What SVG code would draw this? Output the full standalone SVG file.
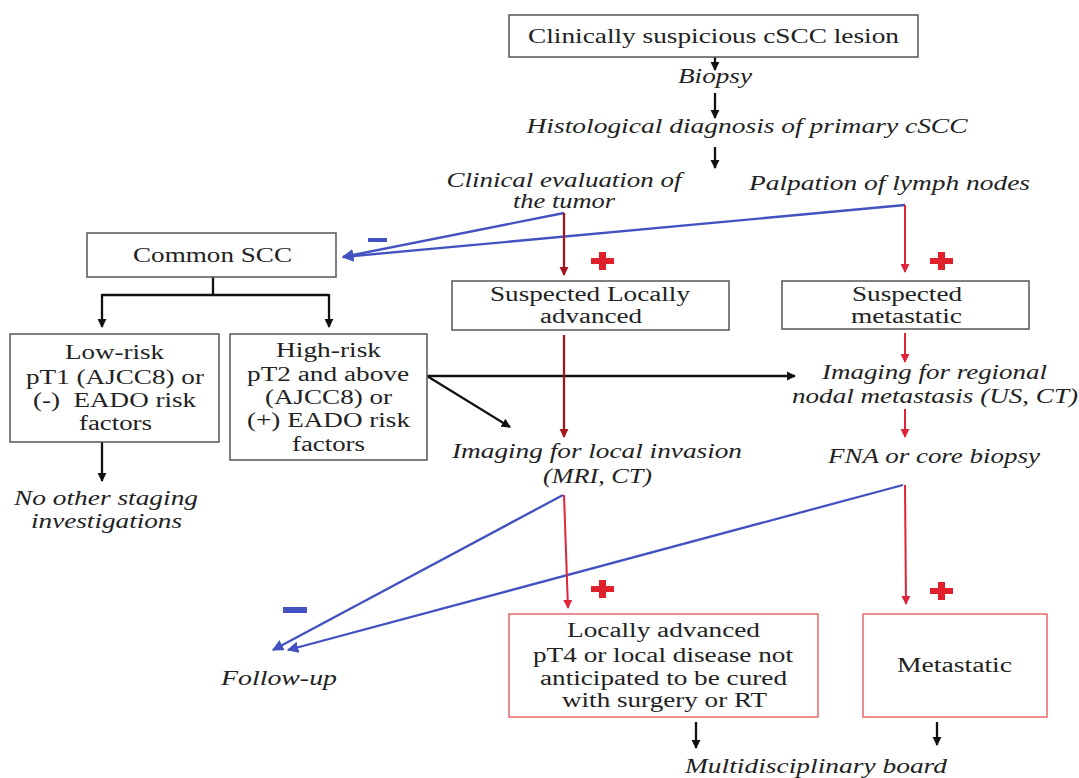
<svg xmlns="http://www.w3.org/2000/svg" width="1079" height="778" viewBox="0 0 1079 778">
<defs>
<marker id="ak" viewBox="0 0 10 10" refX="9" refY="5" markerWidth="4" markerHeight="4" orient="auto"><path d="M0,0L10,5L0,10z" fill="#111"/></marker>
<marker id="ab" viewBox="0 0 10 10" refX="9" refY="5" markerWidth="5" markerHeight="5" orient="auto"><path d="M0,0L10,5L0,10z" fill="#4352c0"/></marker>
<marker id="ar" viewBox="0 0 10 10" refX="9" refY="5" markerWidth="4.5" markerHeight="4.5" orient="auto"><path d="M0,0L10,5L0,10z" fill="#e0253a"/></marker>
<marker id="adr" viewBox="0 0 10 10" refX="9" refY="5" markerWidth="4" markerHeight="4" orient="auto"><path d="M0,0L10,5L0,10z" fill="#a3151e"/></marker>
</defs>
<rect width="1079" height="778" fill="#fff"/>

<g id="connectors" fill="none">
<g stroke="#111" stroke-width="2.3">
<line x1="715" y1="57" x2="715" y2="70" marker-end="url(#ak)"/>
<line x1="715" y1="93" x2="715" y2="118" marker-end="url(#ak)"/>
<line x1="715" y1="147" x2="715" y2="168" marker-end="url(#ak)"/>
<polyline points="213,277 213,295"/>
<polyline points="102,295 329,295"/>
<line x1="102" y1="294" x2="102" y2="327" marker-end="url(#ak)"/>
<line x1="329" y1="294" x2="329" y2="327" marker-end="url(#ak)"/>
<line x1="102" y1="442" x2="102" y2="481" marker-end="url(#ak)"/>
<line x1="427" y1="376" x2="795" y2="376" marker-end="url(#ak)"/>
<line x1="427" y1="376" x2="510" y2="427" marker-end="url(#ak)"/>
<line x1="696" y1="722" x2="696" y2="748" marker-end="url(#ak)"/>
<line x1="937" y1="722" x2="937" y2="745" marker-end="url(#ak)"/>
</g>
<g stroke="#4352c0" stroke-width="2.3">
<line x1="564" y1="213" x2="343" y2="257" marker-end="url(#ab)"/>
<line x1="905" y1="205" x2="343" y2="257" marker-end="url(#ab)"/>
<line x1="563" y1="495" x2="273" y2="650" marker-end="url(#ab)"/>
<line x1="903" y1="485" x2="288" y2="650" marker-end="url(#ab)"/>
</g>
<g stroke="#a3151e" stroke-width="2.3">
<line x1="564" y1="213" x2="564" y2="275" marker-end="url(#adr)"/>
<line x1="564" y1="335" x2="564" y2="437" marker-end="url(#adr)"/>
</g>
<g stroke="#e0253a" stroke-width="2">
<line x1="905" y1="205" x2="905" y2="272" marker-end="url(#ar)"/>
<line x1="905" y1="333" x2="905" y2="362" marker-end="url(#ar)"/>
<line x1="905" y1="409" x2="905" y2="437" marker-end="url(#ar)"/>
<line x1="564" y1="495" x2="568" y2="608" marker-end="url(#ar)"/>
<line x1="905" y1="485" x2="906" y2="604" marker-end="url(#ar)"/>
</g>
</g>

<g id="signs">
<g fill="#4352c0">
<rect x="368" y="238" width="19" height="4"/>
<rect x="283" y="607" width="24" height="6"/>
</g>
<g fill="#e0202a">
<path d="M599,252h7v6h8v6h-8v6h-7v-6h-8v-6h8z"/>
<path d="M938,252h7v6h8v6h-8v6h-7v-6h-8v-6h8z"/>
<path d="M599,580h7v6h8v6h-8v6h-7v-6h-8v-6h8z"/>
<path d="M938,582h7v6h8v6h-8v6h-7v-6h-8v-6h8z"/>
</g>
</g>

<g id="n-lesion">
<rect x="509" y="15" width="409" height="42" fill="#fff" stroke="#555" stroke-width="1.5"/>
<text font-family="Liberation Serif" font-size="21" fill="#222" text-anchor="middle" x="713.5" y="43" textLength="371" lengthAdjust="spacingAndGlyphs">Clinically suspicious cSCC lesion</text>
</g>
<g id="n-biopsy"><text font-family="Liberation Serif" font-size="20" font-style="italic" fill="#222" text-anchor="middle" x="715" y="83" textLength="74" lengthAdjust="spacingAndGlyphs">Biopsy</text></g>
<g id="n-histo"><text font-family="Liberation Serif" font-size="20" font-style="italic" fill="#222" text-anchor="middle" x="747" y="133" textLength="441" lengthAdjust="spacingAndGlyphs">Histological diagnosis of primary cSCC</text></g>
<g id="n-clin">
<text font-family="Liberation Serif" font-size="20" font-style="italic" fill="#222" text-anchor="middle" x="564" y="187" textLength="235" lengthAdjust="spacingAndGlyphs">Clinical evaluation of</text>
<text font-family="Liberation Serif" font-size="20" font-style="italic" fill="#222" text-anchor="middle" x="564" y="208" textLength="102" lengthAdjust="spacingAndGlyphs">the tumor</text>
</g>
<g id="n-palp"><text font-family="Liberation Serif" font-size="20" font-style="italic" fill="#222" text-anchor="middle" x="889.5" y="190" textLength="281" lengthAdjust="spacingAndGlyphs">Palpation of lymph nodes</text></g>

<g id="n-common">
<rect x="87" y="233" width="249" height="44" fill="#fff" stroke="#555" stroke-width="1.5"/>
<text font-family="Liberation Serif" font-size="20" fill="#222" text-anchor="middle" x="212.5" y="262" textLength="159" lengthAdjust="spacingAndGlyphs">Common SCC</text>
</g>
<g id="n-low">
<rect x="10" y="334" width="209" height="108" fill="#fff" stroke="#555" stroke-width="1.5"/>
<text font-family="Liberation Serif" font-size="20" fill="#222" text-anchor="middle" x="114.5" y="359" textLength="99" lengthAdjust="spacingAndGlyphs">Low-risk</text>
<text font-family="Liberation Serif" font-size="20" fill="#222" text-anchor="middle" x="115" y="384" textLength="178" lengthAdjust="spacingAndGlyphs">pT1 (AJCC8) or</text>
<text font-family="Liberation Serif" font-size="20" fill="#222" text-anchor="middle" x="114.5" y="407" textLength="163" lengthAdjust="spacingAndGlyphs" xml:space="preserve">(-)  EADO risk</text>
<text font-family="Liberation Serif" font-size="20" fill="#222" text-anchor="middle" x="115.5" y="430" textLength="73" lengthAdjust="spacingAndGlyphs">factors</text>
</g>
<g id="n-high">
<rect x="230" y="334" width="197" height="126" fill="#fff" stroke="#555" stroke-width="1.5"/>
<text font-family="Liberation Serif" font-size="20" fill="#222" text-anchor="middle" x="328.5" y="357" textLength="105" lengthAdjust="spacingAndGlyphs">High-risk</text>
<text font-family="Liberation Serif" font-size="20" fill="#222" text-anchor="middle" x="328" y="381" textLength="162" lengthAdjust="spacingAndGlyphs">pT2 and above</text>
<text font-family="Liberation Serif" font-size="20" fill="#222" text-anchor="middle" x="328.5" y="404" textLength="127" lengthAdjust="spacingAndGlyphs">(AJCC8) or</text>
<text font-family="Liberation Serif" font-size="20" fill="#222" text-anchor="middle" x="328.5" y="427" textLength="163" lengthAdjust="spacingAndGlyphs">(+) EADO risk</text>
<text font-family="Liberation Serif" font-size="20" fill="#222" text-anchor="middle" x="328.5" y="451" textLength="73" lengthAdjust="spacingAndGlyphs">factors</text>
</g>
<g id="n-nostaging">
<text font-family="Liberation Serif" font-size="20" font-style="italic" fill="#222" text-anchor="middle" x="106" y="505" textLength="184" lengthAdjust="spacingAndGlyphs">No other staging</text>
<text font-family="Liberation Serif" font-size="20" font-style="italic" fill="#222" text-anchor="middle" x="106.5" y="528" textLength="151" lengthAdjust="spacingAndGlyphs">investigations</text>
</g>

<g id="n-suslocal">
<rect x="452" y="281" width="277" height="49" fill="#fff" stroke="#555" stroke-width="1.5"/>
<text font-family="Liberation Serif" font-size="20" fill="#222" text-anchor="middle" x="590" y="301" textLength="200" lengthAdjust="spacingAndGlyphs">Suspected Locally</text>
<text font-family="Liberation Serif" font-size="20" fill="#222" text-anchor="middle" x="591" y="323" textLength="102" lengthAdjust="spacingAndGlyphs">advanced</text>
</g>
<g id="n-susmeta">
<rect x="782" y="281" width="247" height="48" fill="#fff" stroke="#555" stroke-width="1.5"/>
<text font-family="Liberation Serif" font-size="20" fill="#222" text-anchor="middle" x="907" y="301" textLength="110" lengthAdjust="spacingAndGlyphs">Suspected</text>
<text font-family="Liberation Serif" font-size="20" fill="#222" text-anchor="middle" x="906.5" y="323" textLength="111" lengthAdjust="spacingAndGlyphs">metastatic</text>
</g>
<g id="n-imgregional">
<text font-family="Liberation Serif" font-size="20" font-style="italic" fill="#222" text-anchor="middle" x="934.5" y="379" textLength="225" lengthAdjust="spacingAndGlyphs">Imaging for regional</text>
<text font-family="Liberation Serif" font-size="20" font-style="italic" fill="#222" text-anchor="middle" x="935" y="403" textLength="286" lengthAdjust="spacingAndGlyphs">nodal metastasis (US, CT)</text>
</g>
<g id="n-imglocal">
<text font-family="Liberation Serif" font-size="20" font-style="italic" fill="#222" text-anchor="middle" x="597" y="458" textLength="290" lengthAdjust="spacingAndGlyphs">Imaging for local invasion</text>
<text font-family="Liberation Serif" font-size="20" font-style="italic" fill="#222" text-anchor="middle" x="597.5" y="483" textLength="109" lengthAdjust="spacingAndGlyphs">(MRI, CT)</text>
</g>
<g id="n-fna">
<text font-family="Liberation Serif" font-size="20" font-style="italic" fill="#222" text-anchor="middle" x="934" y="463" textLength="212" lengthAdjust="spacingAndGlyphs">FNA or core biopsy</text>
</g>

<g id="n-locadv">
<rect x="509" y="614" width="309" height="103" fill="#fff" stroke="#e8676a" stroke-width="1.5"/>
<text font-family="Liberation Serif" font-size="20" fill="#222" text-anchor="middle" x="663.5" y="637" textLength="193" lengthAdjust="spacingAndGlyphs">Locally advanced</text>
<text font-family="Liberation Serif" font-size="20" fill="#222" text-anchor="middle" x="663" y="662" textLength="260" lengthAdjust="spacingAndGlyphs">pT4 or local disease not</text>
<text font-family="Liberation Serif" font-size="20" fill="#222" text-anchor="middle" x="663.5" y="685" textLength="247" lengthAdjust="spacingAndGlyphs">anticipated to be cured</text>
<text font-family="Liberation Serif" font-size="20" fill="#222" text-anchor="middle" x="664.5" y="707" textLength="205" lengthAdjust="spacingAndGlyphs">with surgery or RT</text>
</g>
<g id="n-meta">
<rect x="863" y="614" width="184" height="103" fill="#fff" stroke="#e8676a" stroke-width="1.5"/>
<text font-family="Liberation Serif" font-size="20" fill="#222" text-anchor="middle" x="954.5" y="672" textLength="115" lengthAdjust="spacingAndGlyphs">Metastatic</text>
</g>
<g id="n-followup"><text font-family="Liberation Serif" font-size="20" font-style="italic" fill="#222" text-anchor="middle" x="279" y="685" textLength="116" lengthAdjust="spacingAndGlyphs">Follow-up</text></g>
<g id="n-board"><text font-family="Liberation Serif" font-size="20" font-style="italic" fill="#222" text-anchor="middle" x="816" y="773" textLength="262" lengthAdjust="spacingAndGlyphs">Multidisciplinary board</text></g>
</svg>
